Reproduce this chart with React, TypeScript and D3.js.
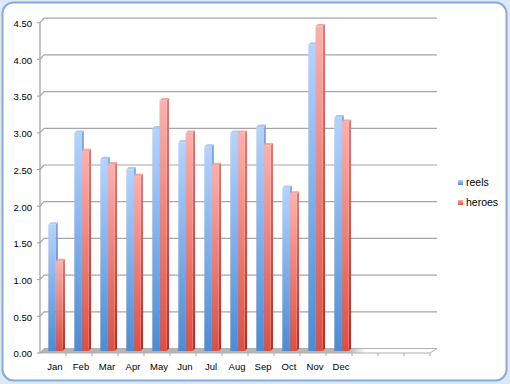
import React from "react";
import * as d3 from "d3";

const categories = ["Jan", "Feb", "Mar", "Apr", "May", "Jun", "Jul", "Aug", "Sep", "Oct", "Nov", "Dec", "", "", ""];
const reels = [1.75, 3.0, 2.64, 2.5, 3.06, 2.87, 2.81, 3.0, 3.08, 2.25, 4.2, 3.21];
const heroes = [1.25, 2.75, 2.57, 2.41, 3.44, 3.0, 2.56, 3.0, 2.83, 2.17, 4.45, 3.15];
const yTicks = [0, 0.5, 1, 1.5, 2, 2.5, 3, 3.5, 4, 4.5];
const seriesNames = ["reels", "heroes"];

const W = 510, H = 384;
const DX = 4, DY = -4.5; // depth of walls
const BD = 2.4; // bar depth offset

export default function App() {
  const x = d3.scaleBand<string>().domain(categories.map((c, i) => i + "")).range([40, 430]).paddingInner(0).paddingOuter(0);
  const y = d3.scaleLinear().domain([0, 4.5]).range([353, 22.7]);
  const bw = x.bandwidth();
  const barW = 7.2;
  const floorFront = 353, floorBar = 351;

  const series = [
    { name: seriesNames[0], values: reels, grad: "gBlue", top: "#A9C9F4", side: "gBlueSide" },
    { name: seriesNames[1], values: heroes, grad: "gRed", top: "#F5A6A2", side: "gRedSide" },
  ];

  const bars: JSX.Element[] = [];
  categories.forEach((c, i) => {
    series.forEach((s, si) => {
      const v = s.values[i];
      if (v === undefined) return;
      const x0 = (x(i + "") as number) + 8.3 + si * barW;
      const yt = y(v);
      const yb = floorBar;
      bars.push(
        <g key={`b${i}-${si}`}>
          <polygon
            points={`${x0 + barW},${yt} ${x0 + barW + BD},${yt - BD} ${x0 + barW + BD},${yb - BD} ${x0 + barW},${yb}`}
            fill={`url(#${s.side})`}
          />
          <polygon
            points={`${x0},${yt} ${x0 + barW},${yt} ${x0 + barW + BD},${yt - BD} ${x0 + BD},${yt - BD}`}
            fill={s.top}
          />
          <rect x={x0} y={yt} width={barW} height={yb - yt} fill={`url(#${s.grad})`} />
        </g>
      );
    });
  });

  const xEnd = 430;
  return (
    <svg width={W} height={H} style={{ position: "fixed", left: 0, top: 0, background: "#dfe8f5" }} fontFamily="'Liberation Sans', Arial, sans-serif">
      <defs>
        <linearGradient id="gBlue" x1="0" y1="0" x2="0" y2="1">
          <stop offset="0" stopColor="#B5D3FF" />
          <stop offset="1" stopColor="#4B8BD6" />
        </linearGradient>
        <linearGradient id="gRed" x1="0" y1="0" x2="0" y2="1">
          <stop offset="0" stopColor="#FFAFAB" />
          <stop offset="1" stopColor="#DA5043" />
        </linearGradient>
        <linearGradient id="gBlueSide" x1="0" y1="0" x2="0" y2="1">
          <stop offset="0" stopColor="#86A9DC" />
          <stop offset="1" stopColor="#3D6FAE" />
        </linearGradient>
        <linearGradient id="gRedSide" x1="0" y1="0" x2="0" y2="1">
          <stop offset="0" stopColor="#C98581" />
          <stop offset="1" stopColor="#9A3A33" />
        </linearGradient>
        <linearGradient id="gFloor" x1="0" y1="0" x2="1" y2="0">
          <stop offset="0" stopColor="#b4b4b4" />
          <stop offset="0.78" stopColor="#b8b8b8" />
          <stop offset="0.82" stopColor="#ffffff" />
          <stop offset="1" stopColor="#ffffff" />
        </linearGradient>
      </defs>
      <rect x={2.5} y={2.5} width={504} height={378} rx={11} ry={11} fill="#ffffff" stroke="#86A9E0" strokeWidth={2} />

      {yTicks.filter((t) => t > 0).map((t) => (
        <polyline
          key={`g${t}`}
          points={`${40},${y(t)} ${40 + DX},${y(t) + DY} ${xEnd + DX + 3},${y(t) + DY}`}
          fill="none"
          stroke="#a6a6a6"
          strokeWidth={1.2}
        />
      ))}

      <polygon
        points={`40,${floorFront} ${xEnd},${floorFront} ${xEnd + DX + 3},${floorFront + DY} ${40 + DX},${floorFront + DY}`}
        fill="url(#gFloor)"
        stroke="#b0b0b0"
        strokeWidth={1}
      />

      <line x1={40} x2={40} y1={y(4.5)} y2={floorFront} stroke="#9c9c9c" strokeWidth={1.2} />
      {yTicks.map((t) => (
        <g key={`yt${t}`}>
          <line x1={37} x2={40} y1={y(t)} y2={y(t)} stroke="#9c9c9c" />
          <text x={32} y={y(t) + 1} dy="0.35em" textAnchor="end" fontSize={9.5} fill="#000">
            {t.toFixed(2)}
          </text>
        </g>
      ))}

      {categories.map((c, i) => (
        <g key={`xc${i}`}>
          <line
            x1={(x(i + "") as number) + bw}
            x2={(x(i + "") as number) + bw}
            y1={floorFront}
            y2={floorFront + 3}
            stroke="#a6a6a6"
          />
          {c && (
            <text x={(x(i + "") as number) + bw / 2 + 2} y={370} textAnchor="middle" fontSize={9.5} fill="#000">
              {c}
            </text>
          )}
        </g>
      ))}

      {bars}

      {series.map((s, si) => (
        <g key={`lg${si}`} transform={`translate(458,${180 + si * 20})`}>
          <rect x={0} y={0} width={5} height={5} fill={`url(#${s.grad})`} />
          <text x={8} y={2.5} dy="0.35em" fontSize={10.5} fill="#000">
            {s.name}
          </text>
        </g>
      ))}
    </svg>
  );
}
